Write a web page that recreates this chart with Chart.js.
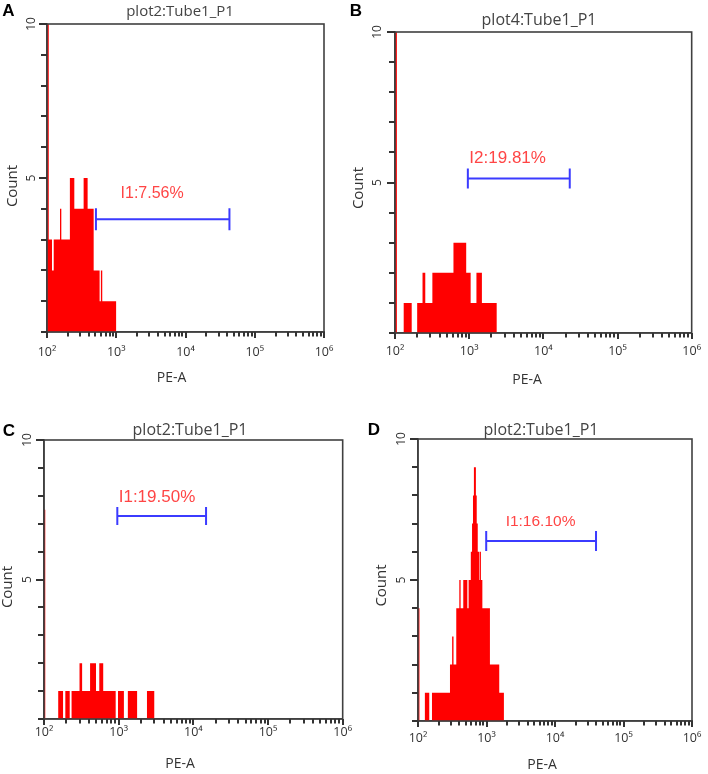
<!DOCTYPE html>
<html>
<head>
<meta charset="utf-8">
<script src="https://cdn.jsdelivr.net/npm/chart.js@4.4.1/dist/chart.umd.min.js"></script>
<style>
  html, body { margin: 0; padding: 0; background: #fff; }
  body { position: relative; width: 708px; height: 774px; overflow: hidden; }
  canvas { position: absolute; }
</style>
</head>
<body>
<script>
// histogram data: PE-A bin start values and counts (each count holds until the next edge)
const aEdges = [100, 106, 118, 125, 154, 161, 214, 248, 338, 386, 472, 575, 600, 628, 1003];
const aCounts = [12, 3, 2, 3, 4, 3, 5, 4, 5, 4, 2, 1, 2, 1, 0];

const bEdges = [100, 106, 131, 168, 199, 235, 256, 319, 614, 912, 1047, 1253, 1485, 2360];
const bCounts = [11, 0, 1, 0, 1, 2, 1, 2, 3, 2, 1, 2, 1, 0];

const cEdges = [100, 104, 155, 180, 193, 221, 234, 299, 324, 414, 497, 550, 621, 912, 980, 1175, 1327, 1766, 2393, 3020];
const cCounts = [7.5, 0, 1, 0, 1, 0, 1, 2, 1, 2, 1, 2, 1, 0, 1, 0, 1, 0, 1, 0];

const dEdges = [100, 105, 126, 146, 160, 293, 315, 330, 362, 401, 419, 458, 525, 548, 590, 615, 635, 655, 700, 720, 745, 790, 805, 830, 870, 1122, 1535, 1795];
const dCounts = [4, 0, 1, 0, 1, 2, 3, 2, 4, 5, 4, 5, 4, 5, 6, 7, 8, 9, 8, 7, 6, 5, 6, 5, 4, 2, 1, 0];

// panel texts
const panelLetters = ['A', 'B', 'C', 'D'];
const panelTitles = ['plot2:Tube1_P1', 'plot4:Tube1_P1', 'plot2:Tube1_P1', 'plot2:Tube1_P1'];
const xAxisTitle = 'PE-A';
const yAxisTitle = 'Count';

// gates (interval markers)
const gateNames = ['I1:7.56%', 'I2:19.81%', 'I1:19.50%', 'I1:16.10%'];
const gateFrom = [509, 960, 959, 990];
const gateTo = [43100, 22700, 14800, 39700];
const gateLevel = [3.66, 5.13, 7.28, 6.38];
const gateLabelX = [3300, 3300, 3260, 6150];
const gateLabelY = [4.5, 5.8, 7.95, 7.05];

// axis ticks
const xMajorTicks = [100, 1000, 10000, 100000, 1000000];
const xTickLabels = ['10\u00B2', '10\u00B3', '10\u2074', '10\u2075', '10\u2076'];
const yLabelled = [5, 10];

const edgesList = [aEdges, bEdges, cEdges, dEdges];
const countsList = [aCounts, bCounts, cCounts, dCounts];

// page layout of each panel (canvas box, plot box, text anchors)
const layout = [
  { cx: 0, cy: 0, cw: 352, ch: 387, l: 47, t: 24, r: 324, b: 332, xPad: 9, yPad: 4,
    letter: [8.5, 11], title: [180, 12, 15], count: [12.5, 186], pea: [171.5, 378], gateFont: 16, cap: 11 },
  { cx: 348, cy: 0, cw: 360, ch: 387, l: 395, t: 32, r: 693, b: 333, xPad: 7, yPad: 6,
    letter: [356, 11], title: [539, 20, 16], count: [359, 188], pea: [527, 380], gateFont: 17, cap: 10 },
  { cx: 0, cy: 387, cw: 354, ch: 387, l: 44, t: 440, r: 347, b: 719, xPad: 2, yPad: 5,
    letter: [9, 431], title: [190, 430, 16], count: [8, 587], pea: [180, 764], gateFont: 17, cap: 9 },
  { cx: 354, cy: 387, cw: 354, ch: 387, l: 418, t: 439, r: 692, b: 721, xPad: 6, yPad: 5,
    letter: [374, 430], title: [541, 430, 16], count: [381.5, 585.5], pea: [542, 765], gateFont: 15.5, cap: 10 }
];

const axisColor = '#404040';
const textColor = '#333333';
const fontFamily = "'Open Sans', 'DejaVu Sans', sans-serif";

const xTickValues = [];
xMajorTicks.forEach(function (v, i) {
  xTickValues.push({ value: v, major: true });
  if (i < xMajorTicks.length - 1) {
    for (let m = 2; m < 10; m++) xTickValues.push({ value: v * m, major: false });
  }
});

const panelDecor = {
  id: 'panelDecor',
  afterDraw: function (chart, args, opts) {
    const i = opts.index;
    const L = layout[i];
    const ctx = chart.ctx;
    const area = chart.chartArea;
    const xs = chart.scales.x;
    const ys = chart.scales.y;
    ctx.save();
    // plot frame
    ctx.strokeStyle = axisColor;
    ctx.lineWidth = 1.6;
    ctx.strokeRect(area.left, area.top, area.right - area.left, area.bottom - area.top);

    // tick marks taken from the scales
    ctx.strokeStyle = '#333333';
    ctx.lineWidth = 2;
    ctx.beginPath();
    xTickValues.forEach(function (t) {
      const px = Math.round(xs.getPixelForValue(t.value));
      ctx.moveTo(px, area.bottom);
      ctx.lineTo(px, area.bottom + (t.major ? 6 : 4.5));
    });
    for (let v = 0; v <= 10; v++) {
      const py = Math.round(ys.getPixelForValue(v));
      const len = yLabelled.indexOf(v) >= 0 ? 8 : 6;
      ctx.moveTo(area.left, py);
      ctx.lineTo(area.left - len, py);
    }
    ctx.stroke();

    // gate
    const x1 = xs.getPixelForValue(gateFrom[i]);
    const x2 = xs.getPixelForValue(gateTo[i]);
    const gy = ys.getPixelForValue(gateLevel[i]);
    ctx.strokeStyle = '#3b3bff';
    ctx.lineWidth = 2;
    ctx.beginPath();
    ctx.moveTo(x1, gy); ctx.lineTo(x2, gy);
    ctx.moveTo(x1, gy - L.cap); ctx.lineTo(x1, gy + L.cap);
    ctx.moveTo(x2, gy - L.cap); ctx.lineTo(x2, gy + L.cap);
    ctx.stroke();

    ctx.textAlign = 'center';
    ctx.textBaseline = 'middle';
    ctx.fillStyle = '#ff4545';
    ctx.font = L.gateFont + "px 'Liberation Sans', Arial, sans-serif";
    ctx.fillText(gateNames[i], xs.getPixelForValue(gateLabelX[i]), ys.getPixelForValue(gateLabelY[i]));

    ctx.fillStyle = '#000';
    ctx.font = "bold 17px 'Liberation Sans', Arial, sans-serif";
    ctx.fillText(panelLetters[i], L.letter[0] - L.cx, L.letter[1] - L.cy);

    ctx.fillStyle = '#444';
    ctx.font = L.title[2] + 'px ' + fontFamily;
    ctx.fillText(panelTitles[i], L.title[0] - L.cx, L.title[1] - L.cy);

    ctx.fillStyle = textColor;
    ctx.font = '14px ' + fontFamily;
    ctx.fillText(xAxisTitle, L.pea[0] - L.cx, L.pea[1] - L.cy);

    ctx.font = '15px ' + fontFamily;
    ctx.translate(L.count[0] - L.cx, L.count[1] - L.cy);
    ctx.rotate(-Math.PI / 2);
    ctx.fillText(yAxisTitle, 0, 0);
    ctx.restore();
  }
};

function makePanel(i) {
  const L = layout[i];
  const canvas = document.createElement('canvas');
  canvas.width = L.cw;
  canvas.height = L.ch;
  canvas.style.left = L.cx + 'px';
  canvas.style.top = L.cy + 'px';
  canvas.style.width = L.cw + 'px';
  canvas.style.height = L.ch + 'px';
  document.body.appendChild(canvas);

  const points = edgesList[i].map(function (x, k) {
    return { x: x, y: countsList[i][k] };
  });

  return new Chart(canvas, {
    type: 'line',
    data: {
      datasets: [{
        data: points,
        stepped: 'before',
        fill: 'origin',
        backgroundColor: '#ff0000',
        borderWidth: 0,
        pointRadius: 0
      }]
    },
    options: {
      responsive: false,
      animation: false,
      events: [],
      layout: {
        autoPadding: false,
        padding: { left: 0, top: L.t - L.cy, right: L.cx + L.cw - L.r, bottom: 0 }
      },
      plugins: {
        legend: { display: false },
        tooltip: { enabled: false },
        panelDecor: { index: i }
      },
      scales: {
        x: {
          type: 'logarithmic',
          min: 100,
          max: 1000000,
          border: { color: axisColor, width: 1.6 },
          grid: { drawOnChartArea: false, drawTicks: true, tickLength: 4, color: 'rgba(0,0,0,0)' },
          ticks: {
            autoSkip: false,
            maxRotation: 0,
            minRotation: 0,
            padding: L.xPad,
            color: textColor,
            font: { family: fontFamily, size: 12.5 },
            callback: function (value) {
              const k = xMajorTicks.indexOf(value);
              return k >= 0 ? xTickLabels[k] : '';
            }
          },
          afterBuildTicks: function (scale) {
            scale.ticks = xTickValues.map(function (t) { return { value: t.value, major: t.major }; });
          },
          afterFit: function (scale) {
            scale.height = L.cy + L.ch - L.b;
          }
        },
        y: {
          min: 0,
          max: 10,
          border: { color: axisColor, width: 1.6 },
          grid: { drawOnChartArea: false, drawTicks: true, tickLength: 5, color: 'rgba(0,0,0,0)' },
          ticks: {
            stepSize: 1,
            autoSkip: false,
            minRotation: 90,
            maxRotation: 90,
            crossAlign: 'center',
            padding: L.yPad,
            color: textColor,
            font: { family: fontFamily, size: 12 },
            callback: function (value) {
              return yLabelled.indexOf(value) >= 0 ? String(value) : '';
            }
          },
          afterFit: function (scale) {
            scale.width = L.l - L.cx;
          }
        }
      }
    },
    plugins: [panelDecor]
  });
}

for (let i = 0; i < 4; i++) makePanel(i);
</script>
</body>
</html>
